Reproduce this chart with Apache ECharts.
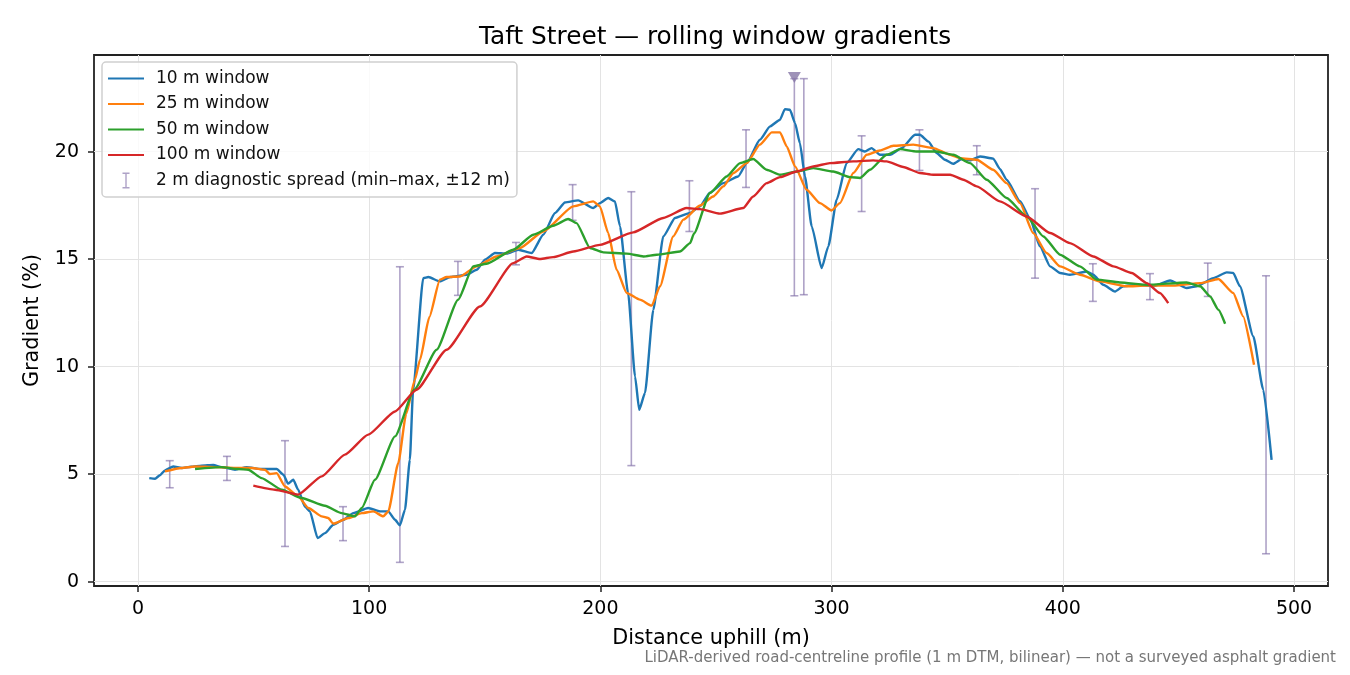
<!DOCTYPE html>
<html>
<head>
<meta charset="utf-8">
<title>Taft Street — rolling window gradients</title>
<script src="https://cdn.jsdelivr.net/npm/echarts@6/dist/echarts.min.js"></script>
<style>
  html, body { margin: 0; padding: 0; background: #fff; }
  #chart { width: 1350px; height: 675px; }
</style>
</head>
<body>
<div id="chart"></div>
<script>
// rolling-window gradient profiles, [distance (m), gradient (%)]
const win10 = [
  [4.9, 4.82], [7.4, 4.79], [9.5, 4.95], [11.7, 5.18], [15.3, 5.36], [18.9, 5.29], [23, 5.35],
  [27.5, 5.4], [32.6, 5.43], [36.2, 5.33], [42, 5.21], [47, 5.33], [53.5, 5.24], [60, 5.24],
  [62.9, 4.98], [65, 4.56], [67.2, 4.74], [69.3, 4.28], [72.2, 3.5], [74.4, 3.27], [77.7, 2.03],
  [80.9, 2.26], [84.5, 2.65], [88.8, 2.88], [93.1, 3.19], [99.6, 3.43], [104.7, 3.27],
  [108.3, 3.27], [111.2, 2.88], [113.3, 2.62], [115.5, 3.35], [117.6, 5.67], [119, 8.9],
  [123.4, 14.12], [125.6, 14.17], [130.6, 13.97], [135, 14.17], [142.2, 14.28], [146.5, 14.51],
  [150.1, 14.98], [154.4, 15.29], [159.5, 15.26], [164.5, 15.44], [170.3, 15.29], [175.3, 16.14],
  [180.4, 17.15], [184.7, 17.64], [190.4, 17.74], [196.9, 17.38], [199.8, 17.61], [203.4, 17.85],
  [206.3, 17.69], [208.5, 16.53], [212, 13.43], [215, 9.55], [216.8, 8.0], [219.3, 8.78],
  [222.9, 12.65], [227.2, 16.06], [232.3, 16.92], [238.8, 17.15], [243.1, 17.46], [247.4, 18.1],
  [253.2, 18.54], [259.6, 18.85], [263.3, 19.47], [269, 20.56], [273.4, 21.18], [277.7, 21.49],
  [279.8, 21.98], [282, 21.95], [284.2, 21.33], [286.3, 20.4], [288.5, 18.85], [291.4, 16.53],
  [295.7, 14.59], [298.6, 15.6], [302.2, 17.77], [306.5, 19.47], [311.5, 20.12], [314.4, 20.01],
  [317.3, 20.17], [320.9, 19.86], [325.3, 19.86], [330.3, 20.17], [336.1, 20.79], [338.2, 20.79],
  [341.8, 20.48], [345.4, 19.94], [349, 19.63], [352.6, 19.44], [356.3, 19.66], [359.9, 19.6],
  [364.2, 19.78], [369.9, 19.68], [372.8, 19.2], [375.7, 18.7], [381.5, 17.7], [385.8, 16.9],
  [390.1, 15.6], [394.5, 14.67], [398.8, 14.36], [403.1, 14.28], [410.3, 14.43], [413.2, 14.28],
  [417.5, 13.81], [422.6, 13.5], [426.2, 13.74], [433.4, 13.81], [439.1, 13.74], [446.4, 14.01],
  [453.6, 13.66], [457.9, 13.74], [465.1, 14.12], [470.9, 14.39], [473.7, 14.36], [476.6, 13.74],
  [482.4, 11.41], [486.7, 8.93], [490.3, 5.67]
];
const win25 = [
  [11.7, 5.13], [18.9, 5.29], [24.7, 5.36], [33.3, 5.33], [42, 5.29], [49.2, 5.29], [54.9, 5.21],
  [57.1, 5.01], [60, 5.05], [63.6, 4.43], [69.3, 3.97], [73.7, 3.43], [79.5, 3.04], [82.3, 2.96],
  [84.5, 2.7], [91, 2.96], [96.8, 3.19], [101.8, 3.27], [106.1, 3.04], [108.3, 3.27], [112.6, 5.52],
  [116, 7.8], [119.8, 9.4], [122, 10.33], [126, 12.3], [130.6, 14.05], [133.5, 14.17],
  [139.3, 14.2], [146.5, 14.67], [155.1, 15.13], [165.2, 15.52], [175.3, 16.29], [188.3, 17.46],
  [196.9, 17.69], [199.8, 17.46], [203.4, 16.22], [207, 14.51], [211.4, 13.43], [217.1, 13.12],
  [222.2, 12.84], [225.8, 13.74], [231.5, 16.06], [235.9, 16.84], [243.1, 17.5], [248.8, 17.92],
  [253.2, 18.39], [257.5, 19.0], [263.3, 19.47], [269, 20.33], [274.1, 20.9], [277.7, 20.9],
  [280.6, 20.25], [284.2, 19.32], [289.2, 18.23], [295, 17.61], [300, 17.27], [303.6, 17.61],
  [309.4, 19.01], [315.2, 19.86], [320.9, 20.06], [326.7, 20.28], [335.3, 20.33], [344, 20.17],
  [351.3, 19.86], [355.5, 19.7], [362.8, 19.63], [369.9, 19.16], [375.7, 18.54], [381.5, 17.61],
  [387.2, 16.22], [393, 15.29], [398.8, 14.67], [407.4, 14.28], [416.1, 13.97], [427.6, 13.74],
  [436.3, 13.77], [447.8, 13.77], [459.4, 13.89], [467.3, 14.08], [473.7, 13.43], [478, 12.34],
  [482.7, 10.09]
];
const win50 = [
  [24.7, 5.24], [36.2, 5.33], [43.4, 5.24], [47.7, 5.21], [53.5, 4.82], [62.2, 4.28], [70.8, 3.89],
  [80.9, 3.53], [88.1, 3.19], [93.9, 3.04], [96.8, 3.43], [102.5, 4.74], [111.2, 6.76],
  [119.5, 8.93], [129.2, 10.79], [138.5, 13.12], [145, 14.67], [150.8, 14.79], [162.3, 15.44],
  [171, 16.14], [179.6, 16.56], [186.1, 16.87], [189.7, 16.68], [195.5, 15.52], [201.3, 15.32],
  [211.4, 15.26], [218.6, 15.13], [224.4, 15.21], [234.4, 15.36], [238.8, 15.75], [240.5, 16.2],
  [247.4, 18.08], [254.6, 18.85], [260.4, 19.47], [266.1, 19.66], [271.9, 19.16], [277.7, 18.93],
  [284.9, 19.08], [292.1, 19.24], [300.7, 19.08], [308, 18.82], [312.3, 18.78], [316.6, 19.16],
  [323.8, 19.86], [329.6, 20.12], [336.8, 20.01], [345.4, 20.01], [352.6, 19.86], [359.9, 19.47],
  [367.1, 18.7], [375.7, 17.85], [384.4, 16.99], [391.6, 16.06], [398.8, 15.21], [407.4, 14.67],
  [414.7, 14.05], [424.7, 13.92], [436.3, 13.81], [453.6, 13.92], [459.4, 13.74], [463.7, 13.27],
  [467.3, 12.65], [470.2, 12.0]
];
const win100 = [
  [49.9, 4.47], [59.3, 4.28], [69.3, 4.05], [79.5, 4.9], [89.5, 5.91], [99.6, 6.84], [111.2, 7.92],
  [120.5, 8.93], [133.5, 10.79], [147.9, 12.8], [162.3, 14.82], [168.1, 15.13], [173.9, 15.01],
  [179.6, 15.1], [188.3, 15.36], [199.8, 15.67], [214.2, 16.25], [227.2, 16.92], [237.3, 17.38],
  [243.1, 17.33], [251.7, 17.12], [261.8, 17.38], [266.1, 17.92], [271.9, 18.54], [277.7, 18.82],
  [284.9, 19.08], [292.1, 19.32], [299.3, 19.47], [309.4, 19.55], [318, 19.6], [323.8, 19.55],
  [331, 19.29], [338.2, 19.01], [344, 18.93], [351.3, 18.93], [357, 18.7], [362.8, 18.39],
  [372.8, 17.69], [384.4, 16.99], [394.5, 16.22], [403.1, 15.75], [413.2, 15.13], [421.9, 14.67],
  [429.8, 14.36], [436.3, 13.89], [442, 13.43], [445.6, 12.96]
];

// 2 m diagnostic spread (min–max within ±12 m)
const spreadX  = [13.75, 38.5, 63.6, 88.7, 113.3, 138.4, 163.5, 188, 213.4, 238.5, 263, 283.9, 288, 313, 338, 362.8, 388, 413, 437.7, 462.7, 487.9];
const spreadLo = [4.37, 4.71, 1.64, 1.91, 0.90, 13.32, 14.74, 16.81, 5.40, 16.29, 18.34, 13.30, 13.35, 17.22, 19.13, 18.93, 14.12, 13.04, 13.12, 13.27, 1.30];
const spreadHi = [5.63, 5.83, 6.56, 3.49, 14.65, 14.9, 15.78, 18.47, 18.14, 18.65, 21.02, 23.4, 23.40, 20.74, 21.02, 20.28, 18.28, 14.79, 14.33, 14.82, 14.23];

// peak marker
const peakPoint = [[283.9, 23.45]];

const xTicks = [0, 100, 200, 300, 400, 500];
const yTicks = [0, 5, 10, 15, 20];

const FONT = 'DejaVu Sans';
const SPREAD_COLOR = 'rgba(125,105,165,0.62)';

const chart = echarts.init(document.getElementById('chart'), null, { renderer: 'canvas' });

// legend icons: invisible corner specks keep the bbox at 36x16 so nothing stretches
const lineIcon = 'path://M0,0L0.01,0L0,0.01Z M0,7L36,7L36,9L0,9Z M36,16L35.99,16L36,15.99Z';
const barIcon = 'path://M0,0L0.01,0L0,0.01Z M14.5,0L21.5,0L21.5,1.4L18.7,1.4L18.7,14.6L21.5,14.6L21.5,16L14.5,16L14.5,14.6L17.3,14.6L17.3,1.4L14.5,1.4Z M36,16L35.99,16L36,15.99Z';

function lineSeries(name, data, color) {
  return {
    name: name,
    type: 'line',
    data: data,
    showSymbol: false,
    smooth: 0.18,
    smoothMonotone: 'x',
    lineStyle: { color: color, width: 2.4 },
    itemStyle: { color: color },
    z: 3
  };
}

const option = {
  animation: false,
  backgroundColor: '#fff',
  textStyle: { fontFamily: FONT },
  title: {
    text: 'Taft Street — rolling window gradients',
    left: 710,
    textAlign: 'center',
    top: 20,
    textStyle: { fontFamily: FONT, fontSize: 24.8, fontWeight: 'normal', color: '#000' }
  },
  grid: {
    left: 94, right: 22, top: 55, bottom: 89,
    show: true, borderColor: '#222', borderWidth: 1.8, backgroundColor: 'transparent'
  },
  legend: {
    orient: 'vertical',
    left: 102,
    top: 62,
    padding: [7.5, 7, 7.5, 6],
    itemGap: 7.5,
    itemWidth: 36,
    itemHeight: 16,
    backgroundColor: 'rgba(255,255,255,0.8)',
    borderColor: '#d0d0d0',
    borderWidth: 1.5,
    borderRadius: 4,
    itemStyle: { borderWidth: 0 },
    textStyle: { fontFamily: FONT, fontSize: 17, color: '#111', lineHeight: 18, padding: [0, 0, 0, 7] },
    data: [
      { name: '10 m window', icon: lineIcon },
      { name: '25 m window', icon: lineIcon },
      { name: '50 m window', icon: lineIcon },
      { name: '100 m window', icon: lineIcon },
      { name: '2 m diagnostic spread (min–max, ±12 m)', icon: barIcon }
    ]
  },
  xAxis: {
    type: 'value',
    min: -19,
    max: 514.7,
    name: 'Distance uphill (m)',
    nameLocation: 'middle',
    nameGap: 42,
    nameTextStyle: { fontFamily: FONT, fontSize: 20.8, color: '#000' },
    axisLine: { show: false, onZero: false },
    axisTick: { show: true, length: 6, lineStyle: { color: '#222', width: 1.5 }, customValues: xTicks },
    axisLabel: { fontFamily: FONT, fontSize: 19, color: '#000', margin: 14, customValues: xTicks },
    splitLine: { show: true, lineStyle: { color: '#e3e3e3', width: 1 } }
  },
  yAxis: {
    type: 'value',
    min: -0.2,
    max: 24.5,
    name: 'Gradient (%)',
    nameLocation: 'middle',
    nameGap: 51,
    nameRotate: 90,
    nameTextStyle: { fontFamily: FONT, fontSize: 20.8, color: '#000' },
    axisLine: { show: false, onZero: false },
    axisTick: { show: true, length: 6, lineStyle: { color: '#222', width: 1.5 }, customValues: yTicks },
    axisLabel: { fontFamily: FONT, fontSize: 19, color: '#000', margin: 15, customValues: yTicks },
    splitLine: { show: true, lineStyle: { color: '#e3e3e3', width: 1 } }
  },
  series: [
    {
      name: '2 m diagnostic spread (min–max, ±12 m)',
      type: 'custom',
      data: spreadX.map((x, i) => [x, spreadLo[i], spreadHi[i]]),
      encode: { x: 0, y: [1, 2] },
      itemStyle: { color: SPREAD_COLOR },
      z: 2,
      renderItem: function (params, api) {
        const x = api.value(0);
        const top = api.coord([x, api.value(2)]);
        const bot = api.coord([x, api.value(1)]);
        const half = 4;
        const st = { stroke: SPREAD_COLOR, lineWidth: 1.6, fill: null };
        return {
          type: 'group',
          children: [
            { type: 'line', shape: { x1: top[0], y1: top[1], x2: bot[0], y2: bot[1] }, style: st },
            { type: 'line', shape: { x1: top[0] - half, y1: top[1], x2: top[0] + half, y2: top[1] }, style: st },
            { type: 'line', shape: { x1: bot[0] - half, y1: bot[1], x2: bot[0] + half, y2: bot[1] }, style: st }
          ]
        };
      }
    },
    lineSeries('10 m window', win10, '#1f77b4'),
    lineSeries('25 m window', win25, '#ff7f0e'),
    lineSeries('50 m window', win50, '#2ca02c'),
    lineSeries('100 m window', win100, '#d62728'),
    {
      name: 'peak',
      type: 'scatter',
      data: peakPoint,
      symbol: 'triangle',
      symbolRotate: 180,
      symbolSize: [13, 11],
      itemStyle: { color: '#8677a6' },
      z: 5
    }
  ],
  graphic: [
    {
      type: 'text',
      right: 14,
      top: 651,
      style: {
        text: 'LiDAR-derived road-centreline profile (1 m DTM, bilinear) — not a surveyed asphalt gradient',
        font: '15px "DejaVu Sans"',
        fill: '#777'
      }
    }
  ]
};

chart.setOption(option);
</script>
</body>
</html>
